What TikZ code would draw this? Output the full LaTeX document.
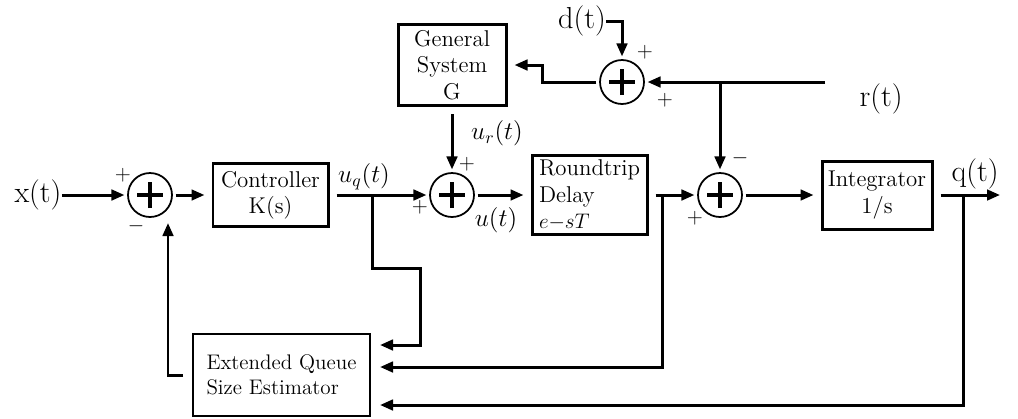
\documentclass[tikz,border=0pt]{standalone}
\usepackage{tikz}
\usetikzlibrary{positioning,arrows.meta,calc}

\begin{document}
\begin{tikzpicture}[
    blk/.style={rectangle, draw=black, line width=1.7pt, align=center, font=\fontsize{13}{15}\selectfont,
              inner sep=2pt, outer sep=0.17cm},
    estim/.style={rectangle, draw=black, line width=1.1pt, align=left, font=\large,
              minimum width=3.54cm, minimum height=1.64cm, outer sep=0.2cm},
    sum/.style={circle, draw=black, line width=1pt, minimum size=0.88cm, inner sep=0pt, outer sep=2pt,
              path picture={\draw[line width=1.8pt]
                ([xshift=-0.26cm]path picture bounding box.center) -- ([xshift=0.26cm]path picture bounding box.center)
                ([yshift=-0.26cm]path picture bounding box.center) -- ([yshift=0.26cm]path picture bounding box.center);}},
    sgn/.style={font=\large, inner sep=0pt},
    lbl/.style={font=\Large, inner sep=0pt},
    sig/.style={font=\LARGE, inner sep=0pt},
    a/.style={-{Triangle[length=2.6mm,width=2.1mm]}, line width=1.7pt}
]
    \useasboundingbox (0,0) rectangle (20.36,-8.36);

    \node[sum] (s1) at (3.0,-3.9) {};
    \node[blk, minimum width=2.3cm, minimum height=1.26cm] (ctrl) at (5.41,-3.9) {Controller\\K(s)};
    \node[sum] (s2) at (9.04,-3.9) {};
    \node[blk, minimum width=2.3cm, minimum height=1.58cm, align=left] (rt) at (11.79,-3.9) {Roundtrip\\Delay\\\large$e{-}sT$};
    \node[sum] (s3) at (14.4,-3.9) {};
    \node[blk, minimum width=2.2cm, minimum height=1.36cm] (int) at (17.54,-3.9) {Integrator\\1/s};
    \node[sum] (s4) at (12.44,-1.64) {};
    \node[blk, minimum width=2.16cm, minimum height=1.62cm] (gs) at (9.04,-1.3) {General\\System\\G};
    \node[estim] (qe) at (5.63,-7.5) {Extended Queue\\Size Estimator};

    \node[sig] (xt) at (0.76,-3.9) {x(t)};
    \node[sig] (dt) at (11.64,-0.42) {d(t)};
    \node[sig] (rl) at (17.62,-1.98) {r(t)};
    \node[sig] (ql) at (19.5,-3.48) {q(t)};
    \node[lbl] (uq) at (7.28,-3.54) {$u_q(t)$};
    \node[lbl] (ur) at (9.94,-2.66) {$u_r(t)$};
    \node[lbl] (ut) at (9.92,-4.4) {$u(t)$};

    \node[sgn] (p1) at (2.46,-3.5) {$+$};
    \node[sgn] (m1) at (2.72,-4.52) {$-$};
    \node[sgn] (p2a) at (9.34,-3.28) {$+$};
    \node[sgn] (p2b) at (8.4,-4.14) {$+$};
    \node[sgn] (m3) at (14.8,-3.16) {$-$};
    \node[sgn] (p3) at (13.9,-4.36) {$+$};
    \node[sgn] (p4a) at (12.9,-1.04) {$+$};
    \node[sgn] (p4b) at (13.3,-2.0) {$+$};

    \coordinate (rin) at (16.5,-1.64);
    \coordinate (qend) at (20.0,-3.9);
    \coordinate (bq) at (7.44,-3.9);
    \coordinate (kq) at (8.4,-5.36);
    \coordinate (bd) at (13.24,-3.9);
    \coordinate (br) at (14.4,-1.64);
    \coordinate (bo) at (19.26,-3.9);
    \coordinate (fb) at (3.36,-4.46);
    \coordinate (ge) at (10.84,-1.64);

    \draw[a] (xt) -- (s1);
    \draw[a] (s1) -- (ctrl);
    \draw[a] (ctrl) -- (s2);
    \draw[a] (s2) -- (rt);
    \draw[a] (rt) -- (s3);
    \draw[a] (s3) -- (int);
    \draw[a] (int) -- (qend);
    \draw[a] (rin) -- (s4);
    \draw[a] (br) -- (s3);
    \draw[a] (dt) -| (s4);
    \draw[a] (s4) -- (ge) |- (gs);
    \draw[a] (gs) -- (s2);
    \draw[a] (bq) |- (kq) |- ([yshift=0.6cm]qe.east);
    \draw[a] (bd) |- ([yshift=0.16cm]qe.east);
    \draw[a] (bo) |- ([yshift=-0.6cm]qe.east);
    \draw[a] (qe) -| (fb);
\end{tikzpicture}
\end{document}
